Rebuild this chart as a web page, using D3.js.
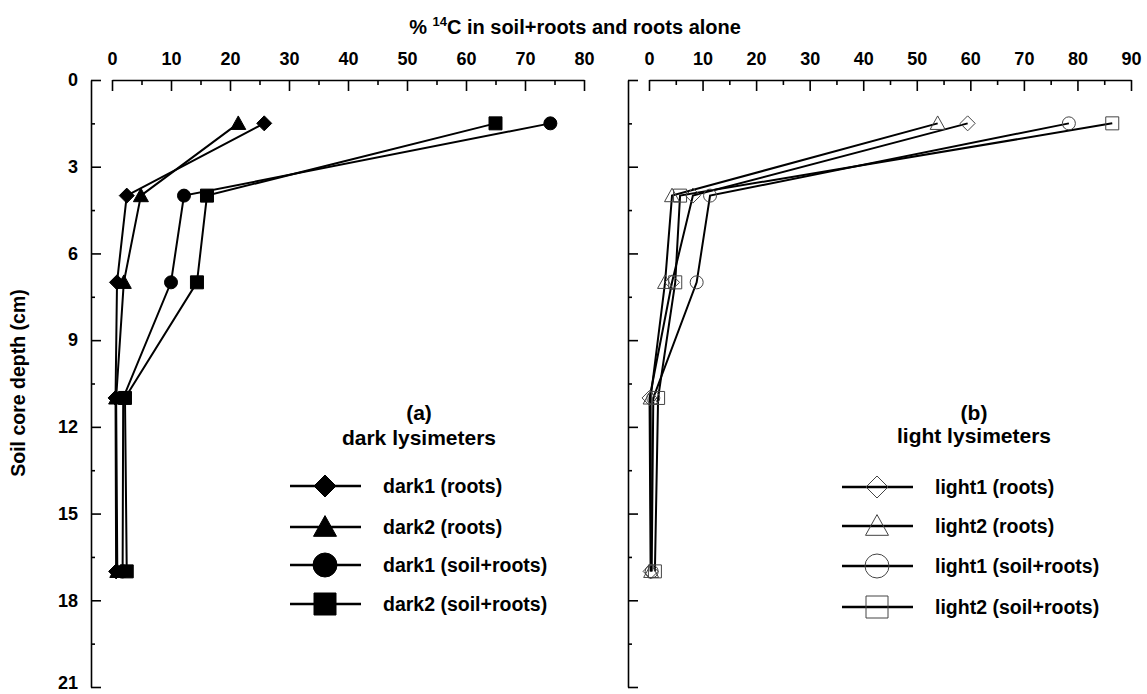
<!DOCTYPE html>
<html><head><meta charset="utf-8">
<script src="https://cdn.jsdelivr.net/npm/d3@7/dist/d3.min.js"></script>
<style>
html,body{margin:0;padding:0;background:#fff;}
svg{display:block;}
text{font-family:"Liberation Sans",Arial,sans-serif;font-weight:bold;fill:#000;}
</style></head>
<body><svg id="chart" width="1147" height="694"></svg>
<script>
// ---- data ----
const depths = [1.5, 4, 7, 11, 17];
const dark1Roots = [25.8, 2.5, 0.85, 0.6, 0.7];
const dark2Roots = [21.4, 4.9, 2.0, 0.7, 0.9];
const dark1Soil  = [74.3, 12.2, 10.0, 1.9, 1.8];
const dark2Soil  = [65.0, 16.1, 14.4, 2.2, 2.5];
const light1Roots = [59.5, 8.2, 4.3, 0.1, 0.3];
const light2Roots = [53.9, 4.3, 3.0, 0.3, 0.4];
const light1Soil  = [78.4, 11.4, 8.9, 0.8, 0.5];
const light2Soil  = [86.5, 5.8, 4.9, 1.7, 1.1];
const darkNames  = ["dark1 (roots)", "dark2 (roots)", "dark1 (soil+roots)", "dark2 (soil+roots)"];
const lightNames = ["light1 (roots)", "light2 (roots)", "light1 (soil+roots)", "light2 (soil+roots)"];
const xTicksLeft  = [0,10,20,30,40,50,60,70,80];
const xTicksRight = [0,10,20,30,40,50,60,70,80,90];
const yTicks = [0,3,6,9,12,15,18,21];

const svg = d3.select("#chart");
const y  = d3.scaleLinear().domain([0,21]).range([80,687]);
const xL = d3.scaleLinear().domain([0,80]).range([112,584]);
const xR = d3.scaleLinear().domain([0,90]).range([649,1131]);

function markerPath(type, r){
  const p = d3.path();
  if(type==="diamond"){ p.moveTo(0,-r); p.lineTo(r,0); p.lineTo(0,r); p.lineTo(-r,0); p.closePath(); }
  else if(type==="triangle"){ const h=r*1.8; p.moveTo(0,-h*0.55); p.lineTo(r,h*0.45); p.lineTo(-r,h*0.45); p.closePath(); }
  else if(type==="circle"){ p.arc(0,0,r,0,2*Math.PI); }
  else { p.rect(-r,-r,2*r,2*r); }
  return p.toString();
}
const types = ["diamond","triangle","circle","square"];
const dataR = [7.5, 7.5, 6.5, 6.5];
const legR  = [11, 11.5, 12, 11];

function styleAxis(g){
  g.selectAll("path,line").attr("stroke","#000").attr("stroke-width",1.6);
  g.selectAll("text").attr("font-size",18).attr("font-family","Liberation Sans, Arial").attr("font-weight","bold");
}

function panel(x, ticks, series, filled, names, yLabels, legX, titleA, titleB, rows, tyA, tyB, tcx){
  const x0 = x.range()[0]-21;
  const gt = svg.append("g").attr("transform","translate(0,80)")
    .call(d3.axisTop(x).tickValues(ticks).tickSizeInner(-11).tickSizeOuter(0).tickPadding(15));
  styleAxis(gt);
  const minor = d3.range(5, x.domain()[1], 10);
  const gtm = svg.append("g").attr("transform","translate(0,80)")
    .call(d3.axisTop(x).tickValues(minor).tickSizeInner(-5).tickSizeOuter(0).tickFormat(""));
  gtm.select(".domain").remove(); styleAxis(gtm);
  const gl = svg.append("g").attr("transform",`translate(${x0},0)`)
    .call(d3.axisLeft(y).tickValues(yTicks).tickSizeInner(-10).tickSizeOuter(0).tickPadding(13)
      .tickFormat(yLabels ? d3.format("d") : ""));
  styleAxis(gl);
  gl.selectAll(".tick text").filter(d=>d===21).attr("dy","0.1em");
  const glm = svg.append("g").attr("transform",`translate(${x0},0)`)
    .call(d3.axisLeft(y).tickValues(d3.range(1.5,21,3)).tickSizeInner(-4).tickSizeOuter(0).tickFormat(""));
  glm.select(".domain").remove(); styleAxis(glm);

  const line = d3.line().x(d=>x(d[0])).y(d=>y(d[1]));
  series.forEach((vals,i)=>{
    const pts = vals.map((v,j)=>[v,depths[j]]);
    svg.append("path").attr("d",line(pts)).attr("fill","none").attr("stroke","#000").attr("stroke-width",2);
  });
  series.forEach((vals,i)=>{
    svg.append("g").selectAll("path").data(vals).join("path")
      .attr("transform",(v,j)=>`translate(${x(v)},${y(depths[j])})`)
      .attr("d",markerPath(types[i],dataR[i]))
      .attr("fill",filled?"#000":"none")
      .attr("stroke",filled?"#000":"#444").attr("stroke-width",1);
  });
  const lg = svg.append("g");
  lg.append("text").attr("x",tcx).attr("y",tyA).attr("text-anchor","middle").attr("font-size",21).text(titleA);
  lg.append("text").attr("x",tcx).attr("y",tyB).attr("text-anchor","middle").attr("font-size",21).text(titleB);
  names.forEach((n,i)=>{
    lg.append("line").attr("x1",legX).attr("x2",legX+71).attr("y1",rows[i]).attr("y2",rows[i])
      .attr("stroke","#000").attr("stroke-width",2.5);
    lg.append("path").attr("transform",`translate(${legX+35},${rows[i]})`).attr("d",markerPath(types[i],legR[i]))
      .attr("fill",filled?"#000":"none").attr("stroke",filled?"#000":"#444").attr("stroke-width",1);
    lg.append("text").attr("x",legX+93).attr("y",rows[i]+7).attr("font-size",19.5).text(n);
  });
}

panel(xL, xTicksLeft, [dark1Roots,dark2Roots,dark1Soil,dark2Soil], true, darkNames, true, 290,
      "(a)", "dark lysimeters", [486,527,565,604], 420, 445, 419);
panel(xR, xTicksRight, [light1Roots,light2Roots,light1Soil,light2Soil], false, lightNames, false, 842,
      "(b)", "light lysimeters", [487,526,566,607], 420, 443, 974);

const t = svg.append("text").attr("x",575).attr("y",34).attr("text-anchor","middle").attr("font-size",20);
t.append("tspan").text("% ");
t.append("tspan").attr("font-size",13).attr("dy",-8).text("14");
t.append("tspan").attr("dy",8).text("C in soil+roots and roots alone");
svg.append("text").attr("transform","translate(25,383) rotate(-90)").attr("text-anchor","middle")
  .attr("font-size",19.5).text("Soil core depth (cm)");
</script></body></html>
